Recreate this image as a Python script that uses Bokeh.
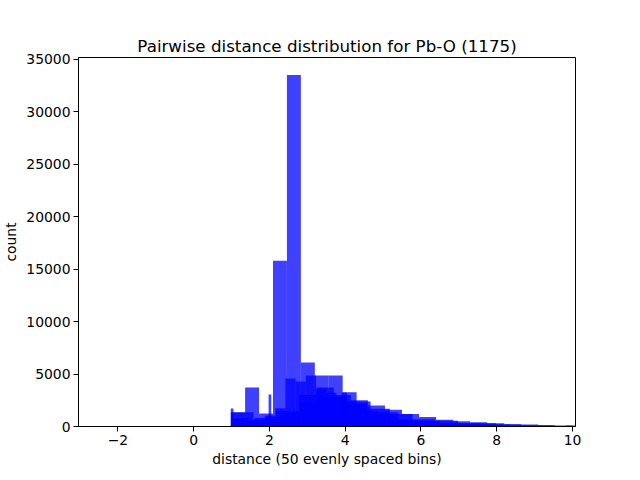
from bokeh.plotting import figure
from bokeh.models import Range1d, FixedTicker, CustomJSTickFormatter, ColumnDataSource
from bokeh.embed import file_html
from bokeh.resources import INLINE

title_text = "Pairwise distance distribution for Pb-O (1175)"
x_label = "distance (50 evenly spaced bins)"
y_label = "count"
x_ticks = [-2, 0, 2, 4, 6, 8, 10]
y_ticks = [0, 5000, 10000, 15000, 20000, 25000, 30000, 35000]

# Each histogram: first bin edge, bin width, counts
hist_a_start, hist_a_width = 0.99, 0.368
hist_a_counts = [1340, 3720, 1240, 15800, 33500, 6100, 4870, 4870, 3270, 2390,
                 1370, 1370, 650, 560, 540, 320, 320, 320, 320, 190,
                 95, 95, 60, 0, 95]

hist_b_start, hist_b_width = 1.07, 0.27
hist_b_counts = [700, 500, 830, 1050, 1750, 4580, 4300, 4870, 3620, 3240,
                 2860, 2400, 2100, 1500, 1200, 1000, 670, 540, 500, 450,
                 290, 290, 250, 250, 190, 150, 95, 95, 95, 95]

hist_c_start, hist_c_width = 0.98, 0.0713
hist_c_counts = [1720, 0, 0, 0, 0, 0, 0, 0, 0, 0,
                 0, 0, 0, 0, 3050, 0, 0, 0, 0, 0,
                 0, 0, 0, 0, 0, 0, 0, 0, 0, 0,
                 0, 0, 0, 0, 0, 0, 0, 0, 0, 0,
                 0, 3240, 3240, 0, 0, 0, 0, 0, 0, 0]

hist_d_start, hist_d_width = 1.0, 0.45
hist_d_counts = [800, 600, 900, 1300, 2290, 3720, 3000, 2500, 2000, 1600,
                 1200, 900, 650, 500, 400, 300, 250, 200, 150, 100]

hist_e_start, hist_e_width = 0.98, 0.6
hist_e_counts = [1370, 700, 1500, 3000, 2800, 2200, 1700, 1200, 700, 560,
                 300, 190, 95]

hists = [
    (hist_a_start, hist_a_width, hist_a_counts),
    (hist_b_start, hist_b_width, hist_b_counts),
    (hist_c_start, hist_c_width, hist_c_counts),
    (hist_d_start, hist_d_width, hist_d_counts),
    (hist_e_start, hist_e_width, hist_e_counts),
]

p = figure(frame_width=497, frame_height=369, output_backend="svg", toolbar_location=None,
           x_range=Range1d(-3.04, 10.08), y_range=Range1d(0, 35175),
           min_border_left=68, min_border_right=50, min_border_top=57,
           min_border_bottom=40)

for start, width, counts in hists:
    left = [start + i * width for i in range(len(counts))]
    right = [start + (i + 1) * width for i in range(len(counts))]
    src = ColumnDataSource(dict(left=left, right=right, top=counts,
                                bottom=[0] * len(counts)))
    p.quad(left="left", right="right", top="top", bottom="bottom", source=src,
           fill_color="#0000ff", fill_alpha=0.75, line_color=None)

font = "DejaVu Sans"
p.title.text = title_text
p.title.align = "center"
p.title.text_font = font
p.title.text_font_size = "16.7px"
p.title.text_font_style = "normal"
p.title.text_color = "black"
p.title.standoff = 4

p.xgrid.visible = False
p.ygrid.visible = False
p.outline_line_color = "black"
p.outline_line_width = 1
p.background_fill_color = "white"
p.border_fill_color = "white"

for ax in (p.xaxis[0], p.yaxis[0]):
    ax.major_label_text_font = font
    ax.major_label_text_font_size = "13.9px"
    ax.major_label_text_color = "black"
    ax.axis_label_text_font = font
    ax.axis_label_text_font_size = "13.9px"
    ax.axis_label_text_font_style = "normal"
    ax.axis_label_text_color = "black"
    ax.minor_tick_line_color = None
    ax.major_tick_in = 0
    ax.major_tick_out = 5
    ax.axis_line_color = "black"
    ax.major_tick_line_color = "black"
    ax.major_label_standoff = 3

p.xaxis[0].ticker = FixedTicker(ticks=x_ticks)
p.yaxis[0].ticker = FixedTicker(ticks=y_ticks)
p.xaxis[0].formatter = CustomJSTickFormatter(code="return tick.toString().replace('-', '\u2212');")
p.xaxis[0].axis_label = x_label
p.yaxis[0].axis_label = y_label
p.yaxis[0].axis_label_standoff = 4
p.xaxis[0].axis_label_standoff = 3

open("out.html", "w").write(file_html(p, INLINE))
